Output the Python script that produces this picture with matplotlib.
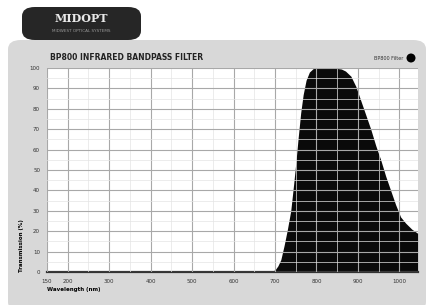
import numpy as np
import matplotlib
matplotlib.use("Agg")
import matplotlib.pyplot as plt
from matplotlib.patches import FancyBboxPatch, Ellipse
from matplotlib.ticker import MultipleLocator

# Data
wavelength = [150, 600, 680, 690, 700, 707, 714, 722, 730, 738, 745, 750, 756, 762, 768,
              775, 783, 792, 803, 820, 842, 860, 870, 883, 895, 907, 919, 931, 943, 955,
              967, 979, 991, 1003, 1015, 1030, 1044]
transmission = [0, 0, 0, 0.3, 1, 3, 6, 13, 21, 30, 43, 53, 66, 78, 87,
                94, 98, 99.7, 100, 100, 100, 99.5, 98.5, 96, 91, 84, 77, 70, 62, 55,
                47, 40, 33, 27, 24, 21, 19]
xticks = [150, 200, 300, 400, 500, 600, 700, 800, 900, 1000]
yticks = list(range(0, 101, 10))
title = "BP800 INFRARED BANDPASS FILTER"
legend_label = "BP800 Filter"

fig = plt.figure(figsize=(4.3, 3.05), dpi=100)
W, H = 430, 305

def fx(px):
    return px / W

def fy(py):
    return 1 - py / H

# outer gray panel
panel = FancyBboxPatch((fx(8), -0.02), fx(426) - fx(8), fy(40) + 0.02,
                       boxstyle="round,pad=0,rounding_size=0.03",
                       transform=fig.transFigure, facecolor="#d8d8d8",
                       edgecolor="none", zorder=-2)
fig.patches.append(panel)
# logo tab
tab = FancyBboxPatch((fx(22), fy(40)), fx(141) - fx(22), fy(7) - fy(40),
                     boxstyle="round,pad=0,rounding_size=0.03",
                     transform=fig.transFigure, facecolor="#262626",
                     edgecolor="none", zorder=-1)
fig.patches.append(tab)
fig.text(fx(81), fy(19), "MIDOPT", color="#e8e8e8", fontsize=8, fontweight="bold",
         ha="center", va="center", family="DejaVu Serif")
fig.text(fx(81), fy(31), "MIDWEST OPTICAL SYSTEMS", color="#9a9a9a", fontsize=3,
         ha="center", va="center")

ax = fig.add_axes([fx(47), fy(272), fx(418) - fx(47), fy(68) - fy(272)])
ax.set_facecolor("white")
ax.fill_between(wavelength, transmission, 0, color="#0a0a0a", lw=0, zorder=2)
ax.set_xlim(150, 1045)
ax.set_ylim(0, 100)
ax.set_xticks(xticks)
ax.set_yticks(yticks)
ax.xaxis.set_minor_locator(MultipleLocator(50))
ax.yaxis.set_minor_locator(MultipleLocator(5))
ax.grid(which="major", color="#a8a8a8", lw=0.8, zorder=3)
ax.grid(which="minor", color="#e4e4e4", lw=0.5, zorder=3)
ax.set_axisbelow(False)
for s in ["top", "right", "left"]:
    ax.spines[s].set_visible(False)
ax.spines["bottom"].set_linewidth(1.6)
ax.spines["bottom"].set_color("#333333")
ax.tick_params(which="both", length=0, labelsize=4, colors="#333333", pad=5)
ax.set_xlabel("Wavelength (nm)", fontsize=4, fontweight="bold", loc="left", labelpad=2)
ax.set_ylabel("Transmission (%)", fontsize=4, fontweight="bold", loc="bottom", labelpad=4)

fig.text(fx(50), fy(57), title, fontsize=5.5, fontweight="bold", color="#222222",
         ha="left", va="center")
fig.text(fx(403), fy(58), legend_label, fontsize=3.5, color="#333333",
         ha="right", va="center")
fig.patches.append(Ellipse((fx(411), fy(58)), fx(9), 9 / H, transform=fig.transFigure,
                           facecolor="black", edgecolor="none", zorder=5))

fig.savefig("out.png", dpi=100)
